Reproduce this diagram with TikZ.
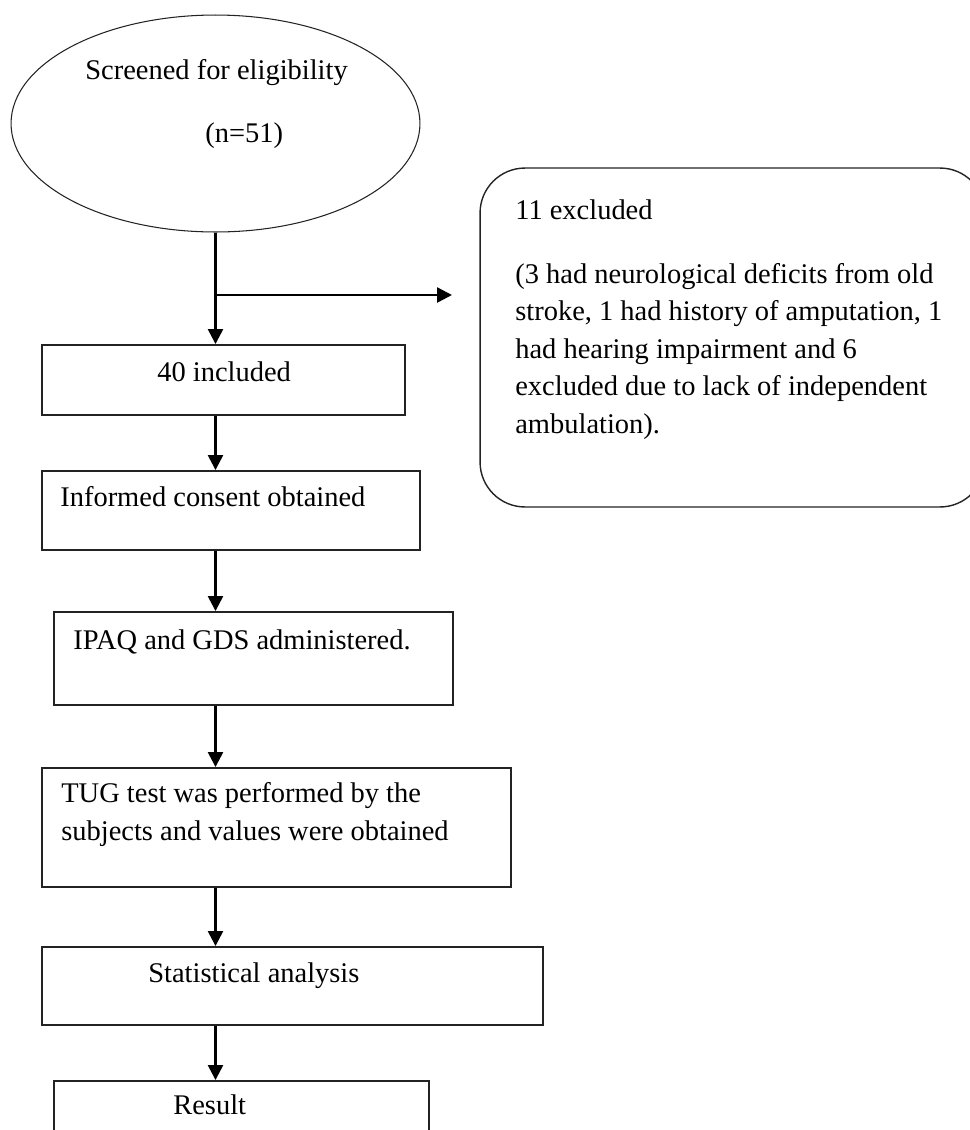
\documentclass[tikz,border=0pt]{standalone}
\usepackage{fontspec}
\setmainfont{Liberation Serif}
\usetikzlibrary{arrows.meta,shapes.geometric,calc}
\definecolor{ink}{RGB}{35,35,35}
\tikzset{
  >={Triangle[length=8.5pt,width=8.5pt]},
  stepbox/.style={draw=ink,line width=1.1pt,inner sep=0pt},
  roundbox/.style={draw=ink,line width=0.8pt,inner sep=0pt,rounded corners=0.9cm},
  txt/.style={anchor=base west,inner sep=0pt,align=left,
    font=\fontsize{16.2}{21.3}\selectfont},
  flow/.style={->,line width=1.4pt,draw=black},
}

\begin{document}
\begin{tikzpicture}[x=0.02cm,y=-0.02cm]
  \clip (0,0) rectangle (970,1130);
  % screening
  \node[ellipse,draw=ink,line width=0.6pt,inner sep=0pt,minimum width=8.18cm,minimum height=4.34cm] (ell) at (215.5,123.5) {};
  \node[txt] (ellA) at (85,79) {Screened for eligibility};
  \node[txt] (ellB) at (205,142) {(n=51)};
  % exclusions
  \node[roundbox,minimum width=10.1cm,minimum height=6.78cm] (excl) at (732.5,337.5) {};
  \node[txt] (exA) at (515,219) {11 excluded};
  \node[txt] (exB) at (515,433) {(3 had neurological deficits from old\\
    stroke, 1 had history of amputation, 1\\
    had hearing impairment and 6\\
    excluded due to lack of independent\\
    ambulation).};
  % main steps
  \node[stepbox,minimum width=7.26cm,minimum height=1.40cm] (b1) at (223.5,380) {};
  \node[stepbox,minimum width=7.56cm,minimum height=1.58cm] (b2) at (231,510.5) {};
  \node[stepbox,minimum width=7.98cm,minimum height=1.86cm] (b3) at (253.5,658.5) {};
  \node[stepbox,minimum width=9.38cm,minimum height=2.38cm] (b4) at (276.5,827.5) {};
  \node[stepbox,minimum width=10.02cm,minimum height=1.56cm] (b5) at (292.5,986) {};
  \node[stepbox,minimum width=7.50cm,minimum height=1.56cm] (b6) at (241.5,1120) {};
  \node[txt] (t1) at (157,381) {40 included};
  \node[txt] (t2) at (60,506) {Informed consent obtained};
  \node[txt] (t3) at (73,649) {IPAQ and GDS administered.};
  \node[txt] (t4) at (61,840) {TUG test was performed by the\\subjects and values were obtained};
  \node[txt] (t5) at (148,982) {Statistical analysis};
  \node[txt] (t6) at (173,1114) {Result};
  % connectors
  \coordinate (split) at (216,295);
  \coordinate (exin) at (452,295);
  \draw[flow] (ell.south) -- (b1.north -| ell.south);
  \draw[flow] (split) -- (exin);
  \foreach \a/\b in {b1/b2,b2/b3,b3/b4,b4/b5,b5/b6}
    \draw[flow] (\a.south -| ell.south) -- (\b.north -| ell.south);
\end{tikzpicture}
\end{document}
